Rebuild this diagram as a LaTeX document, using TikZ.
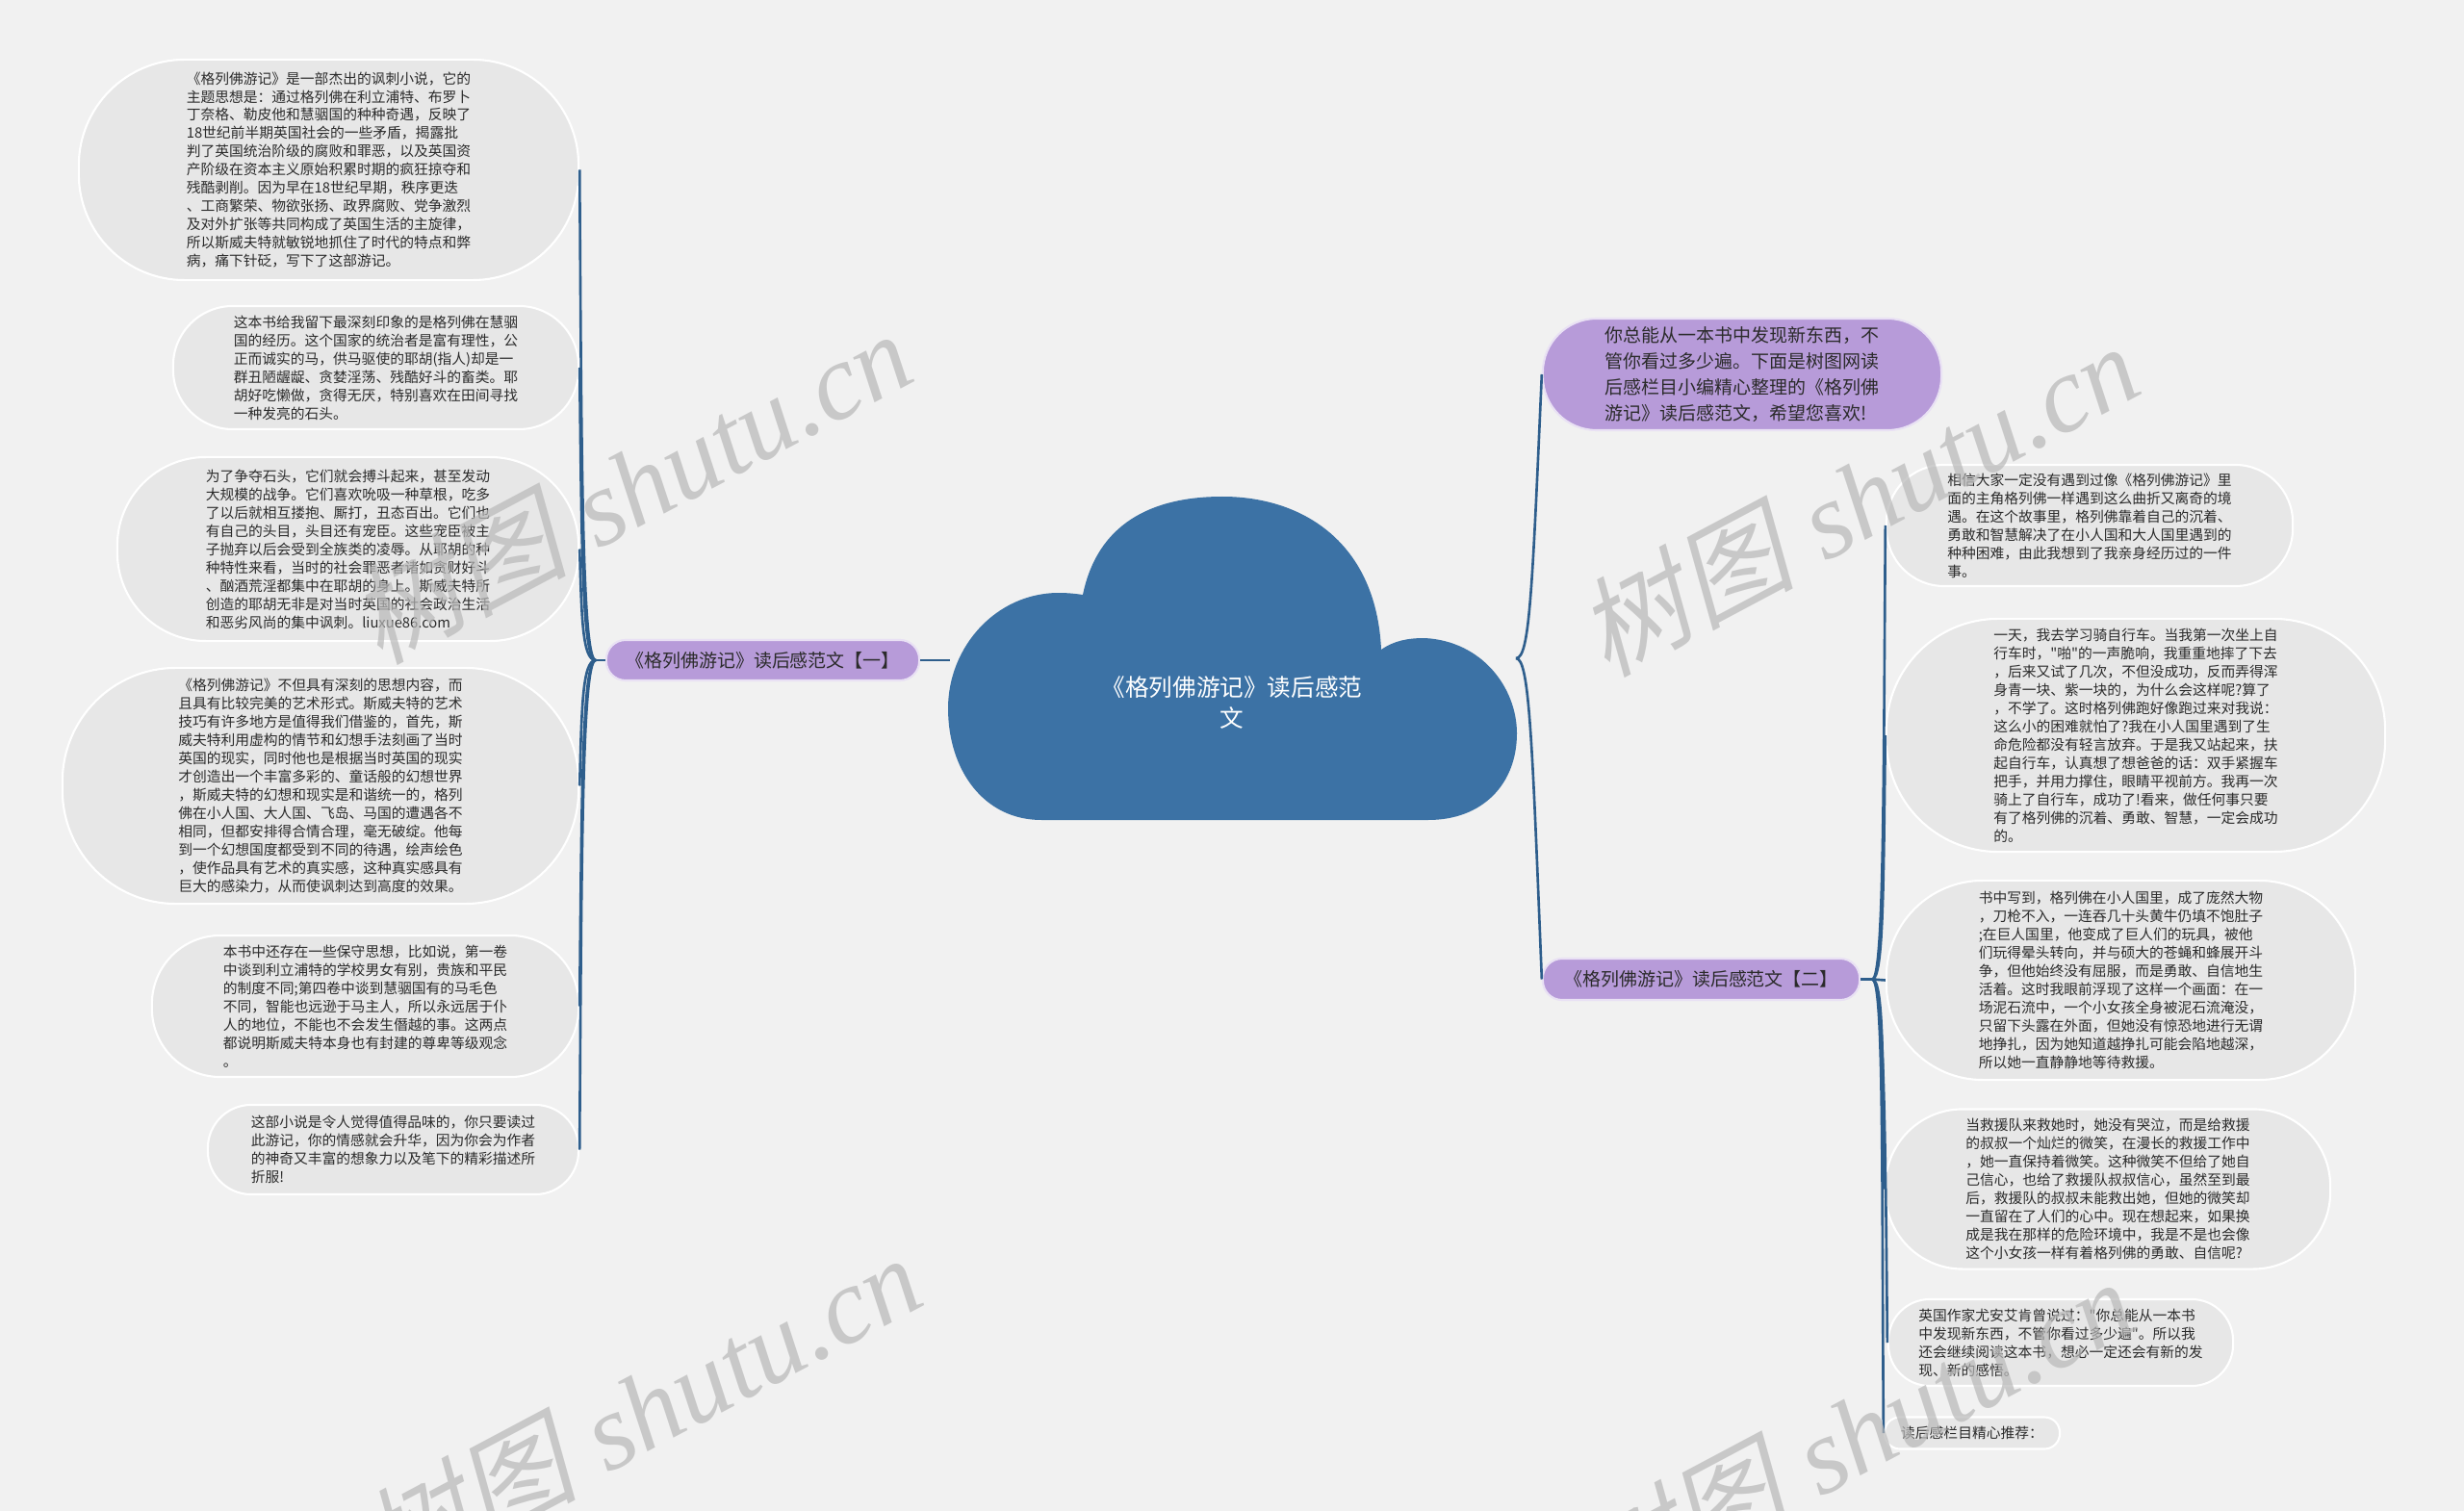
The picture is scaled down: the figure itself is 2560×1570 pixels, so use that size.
\documentclass[tikz,border=0pt]{standalone}
\usepackage{fontspec}
\setmainfont{Liberation Sans}
\newfontfamily\cjk{Noto Sans CJK SC}
\newfontfamily\cjkslant[FakeSlant=0.22]{Noto Sans CJK SC}
\newfontfamily\wmserif{Liberation Serif}
\definecolor{bg}{HTML}{F1F1F1}
\definecolor{leafgray}{HTML}{E7E7E7}
\definecolor{purp}{HTML}{B79BD9}
\definecolor{cloudblue}{HTML}{3C72A5}
\definecolor{connblue}{HTML}{2E5E8C}
\definecolor{txt}{HTML}{2B2B2B}
\definecolor{wmgray}{HTML}{B8B8B8}
\tikzset{
  leaf/.style={draw=white, line width=0.6pt, fill=leafgray, text=txt,
    font=\cjk\fontsize{4.2}{5.4}\selectfont, align=left, inner sep=0pt},
  purpnode/.style={draw=white!70!purp, line width=0.6pt, fill=purp, text=txt,
    font=\cjk\fontsize{5.4}{7.7}\selectfont, align=left, inner sep=0pt},
  conn/.style={draw=connblue, line width=0.75pt},
  wm/.style={text=wmgray, opacity=0.7, font=\fontsize{32}{32}\selectfont, inner sep=0pt}
}
\newcommand\wmtext{{\cjkslant 树图} {\wmserif\itshape shutu.cn}}
\begin{document}
\begin{tikzpicture}[x=0.01cm, y=-0.01cm]
\useasboundingbox (0,0) rectangle (2560,1570);
\fill[bg] (0,0) rectangle (2560,1570);

% ---------- central cloud ----------
\fill[cloudblue] (1125,618) .. controls (1140,545) and (1195,516) .. (1270,516)
  .. controls (1355,516) and (1430,565) .. (1435,675)
  .. controls (1448,666) and (1462,663) .. (1480,663)
  .. controls (1540,666) and (1576,715) .. (1576,762)
  .. controls (1576,815) and (1540,852) .. (1484,852)
  -- (1082,852)
  .. controls (1022,852) and (985,800) .. (985,736)
  .. controls (985,672) and (1035,616) .. (1100,616)
  .. controls (1110,616) and (1118,617) .. (1125,618) -- cycle;
\node[font=\cjk\fontsize{7}{9.3}\selectfont, text=white, align=center, inner sep=0pt] (center) at (1280,730) {《格列佛游记》读后感范\\文};
\coordinate (cloudW) at (987,686);
\coordinate (cloudE) at (1575,684);

% ---------- branch nodes ----------
\node[purpnode, minimum width=3.25cm, minimum height=0.42cm, rounded corners=0.2cm, align=center] (b1) at (792.5,686) {《格列佛游记》读后感范文【一】};
\node[purpnode, minimum width=3.29cm, minimum height=0.43cm, rounded corners=0.2cm, align=center] (b2) at (1767.5,1017.5) {《格列佛游记》读后感范文【二】};
\node[purpnode, minimum width=4.14cm, minimum height=1.16cm, rounded corners=0.56cm] (intro) at (1810,389) {你总能从一本书中发现新东西，不\\管你看过多少遍。下面是树图网读\\后感栏目小编精心整理的《格列佛\\游记》读后感范文，希望您喜欢!};

% ---------- left leaves ----------
\node[leaf, minimum width=5.19cm, minimum height=2.29cm, rounded corners=1.1cm] (l1) at (341.5,176.5) {《格列佛游记》是一部杰出的讽刺小说，它的\\主题思想是：通过格列佛在利立浦特、布罗卜\\丁奈格、勒皮他和慧骃国的种种奇遇，反映了\\18世纪前半期英国社会的一些矛盾，揭露批\\判了英国统治阶级的腐败和罪恶，以及英国资\\产阶级在资本主义原始积累时期的疯狂掠夺和\\残酷剥削。因为早在18世纪早期，秩序更迭\\、工商繁荣、物欲张扬、政界腐败、党争激烈\\及对外扩张等共同构成了英国生活的主旋律，\\所以斯威夫特就敏锐地抓住了时代的特点和弊\\病，痛下针砭，写下了这部游记。};
\node[leaf, minimum width=4.21cm, minimum height=1.28cm, rounded corners=0.62cm] (l2) at (390.5,382) {这本书给我留下最深刻印象的是格列佛在慧骃\\国的经历。这个国家的统治者是富有理性，公\\正而诚实的马，供马驱使的耶胡(指人)却是一\\群丑陋龌龊、贪婪淫荡、残酷好斗的畜类。耶\\胡好吃懒做，贪得无厌，特别喜欢在田间寻找\\一种发亮的石头。};
\node[leaf, minimum width=4.79cm, minimum height=1.91cm, rounded corners=0.92cm] (l3) at (361.5,570.5) {为了争夺石头，它们就会搏斗起来，甚至发动\\大规模的战争。它们喜欢吮吸一种草根，吃多\\了以后就相互搂抱、厮打，丑态百出。它们也\\有自己的头目，头目还有宠臣。这些宠臣被主\\子抛弃以后会受到全族类的凌辱。从耶胡的种\\种特性来看，当时的社会罪恶者诸如贪财好斗\\、酗酒荒淫都集中在耶胡的身上。斯威夫特所\\创造的耶胡无非是对当时英国的社会政治生活\\和恶劣风尚的集中讽刺。liuxue86.com};
\node[leaf, minimum width=5.36cm, minimum height=2.45cm, rounded corners=1.18cm] (l4) at (333,816.5) {《格列佛游记》不但具有深刻的思想内容，而\\且具有比较完美的艺术形式。斯威夫特的艺术\\技巧有许多地方是值得我们借鉴的，首先，斯\\威夫特利用虚构的情节和幻想手法刻画了当时\\英国的现实，同时他也是根据当时英国的现实\\才创造出一个丰富多彩的、童话般的幻想世界\\，斯威夫特的幻想和现实是和谐统一的，格列\\佛在小人国、大人国、飞岛、马国的遭遇各不\\相同，但都安排得合情合理，毫无破绽。他每\\到一个幻想国度都受到不同的待遇，绘声绘色\\，使作品具有艺术的真实感，这种真实感具有\\巨大的感染力，从而使讽刺达到高度的效果。};
\node[leaf, minimum width=4.43cm, minimum height=1.47cm, rounded corners=0.71cm] (l5) at (379.5,1045.5) {本书中还存在一些保守思想，比如说，第一卷\\中谈到利立浦特的学校男女有别，贵族和平民\\的制度不同;第四卷中谈到慧骃国有的马毛色\\不同，智能也远逊于马主人，所以永远居于仆\\人的地位，不能也不会发生僭越的事。这两点\\都说明斯威夫特本身也有封建的尊卑等级观念\\。};
\node[leaf, minimum width=3.85cm, minimum height=0.93cm, rounded corners=0.45cm] (l6) at (408.5,1194.5) {这部小说是令人觉得值得品味的，你只要读过\\此游记，你的情感就会升华，因为你会为作者\\的神奇又丰富的想象力以及笔下的精彩描述所\\折服!};

% ---------- right leaves ----------
\node[leaf, minimum width=4.22cm, minimum height=1.26cm, rounded corners=0.6cm] (r1) at (2171,546) {相信大家一定没有遇到过像《格列佛游记》里\\面的主角格列佛一样遇到这么曲折又离奇的境\\遇。在这个故事里，格列佛靠着自己的沉着、\\勇敢和智慧解决了在小人国和大人国里遇到的\\种种困难，由此我想到了我亲身经历过的一件\\事。};
\node[leaf, minimum width=5.18cm, minimum height=2.42cm, rounded corners=1.16cm] (r2) at (2219,764) {一天，我去学习骑自行车。当我第一次坐上自\\行车时，"啪"的一声脆响，我重重地摔了下去\\，后来又试了几次，不但没成功，反而弄得浑\\身青一块、紫一块的，为什么会这样呢?算了\\，不学了。这时格列佛跑好像跑过来对我说：\\这么小的困难就怕了?我在小人国里遇到了生\\命危险都没有轻言放弃。于是我又站起来，扶\\起自行车，认真想了想爸爸的话：双手紧握车\\把手，并用力撑住，眼睛平视前方。我再一次\\骑上了自行车，成功了!看来，做任何事只要\\有了格列佛的沉着、勇敢、智慧，一定会成功\\的。};
\node[leaf, minimum width=4.87cm, minimum height=2.07cm, rounded corners=1.0cm] (r3) at (2203.5,1018.5) {书中写到，格列佛在小人国里，成了庞然大物\\，刀枪不入，一连吞几十头黄牛仍填不饱肚子\\;在巨人国里，他变成了巨人们的玩具，被他\\们玩得晕头转向，并与硕大的苍蝇和蜂展开斗\\争，但他始终没有屈服，而是勇敢、自信地生\\活着。这时我眼前浮现了这样一个画面：在一\\场泥石流中，一个小女孩全身被泥石流淹没，\\只留下头露在外面，但她没有惊恐地进行无谓\\地挣扎，因为她知道越挣扎可能会陷地越深，\\所以她一直静静地等待救援。};
\node[leaf, minimum width=4.62cm, minimum height=1.66cm, rounded corners=0.8cm] (r4) at (2190,1235.5) {当救援队来救她时，她没有哭泣，而是给救援\\的叔叔一个灿烂的微笑，在漫长的救援工作中\\，她一直保持着微笑。这种微笑不但给了她自\\己信心，也给了救援队叔叔信心，虽然至到最\\后，救援队的叔叔未能救出她，但她的微笑却\\一直留在了人们的心中。现在想起来，如果换\\成是我在那样的危险环境中，我是不是也会像\\这个小女孩一样有着格列佛的勇敢、自信呢?};
\node[leaf, minimum width=3.58cm, minimum height=0.9cm, rounded corners=0.43cm] (r5) at (2141,1395) {英国作家尤安艾肯曾说过："你总能从一本书\\中发现新东西，不管你看过多少遍"。所以我\\还会继续阅读这本书，想必一定还会有新的发\\现、新的感悟。};
\node[leaf, minimum width=1.82cm, minimum height=0.33cm, rounded corners=0.16cm, align=center] (r6) at (2049,1489) {读后感栏目精心推荐：};

% ---------- connectors ----------
\draw[conn] (b1.east) -- (cloudW);
\draw[conn] (b1.west) -- ++(-10,0) coordinate (lsp);
\draw[conn] (lsp) .. controls +(-14,0) and +(2,306) .. (l1.east);
\draw[conn] (lsp) .. controls +(-14,0) and +(2,182) .. (l2.east);
\draw[conn] (lsp) .. controls +(-14,0) and +(2,69) .. (l3.east);
\draw[conn] (lsp) .. controls +(-14,0) and +(2,-78) .. (l4.east);
\draw[conn] (lsp) .. controls +(-14,0) and +(2,-216) .. (l5.east);
\draw[conn] (lsp) .. controls +(-14,0) and +(2,-305) .. (l6.east);

\draw[conn] (cloudE) .. controls +(14,0) and +(-10,230) .. (intro.west);
\draw[conn] (cloudE) .. controls +(14,0) and +(-10,-250) .. (b2.west);

\draw[conn] (b2.east) -- ++(12,0) coordinate (rsp);
\draw[conn] (rsp) .. controls +(12,0) and +(-2,283) .. (r1.west);
\draw[conn] (rsp) .. controls +(12,0) and +(-2,152) .. (r2.west);
\draw[conn] (rsp) -- (r3.west);
\draw[conn] (rsp) .. controls +(12,0) and +(-2,-131) .. (r4.west);
\draw[conn] (rsp) .. controls +(12,0) and +(-2,-227) .. (r5.west);
\draw[conn] (rsp) .. controls +(12,0) and +(-2,-283) .. (r6.west);

% ---------- watermarks ----------
\node[wm, rotate=28] (wm1) at (655,505) {\wmtext};
\node[wm, rotate=28] (wm2) at (1930,518) {\wmtext};
\node[wm, rotate=28] (wm3) at (665,1465) {\wmtext};
\node[wm, rotate=28] (wm4) at (1925,1490) {\wmtext};
\end{tikzpicture}
\end{document}
